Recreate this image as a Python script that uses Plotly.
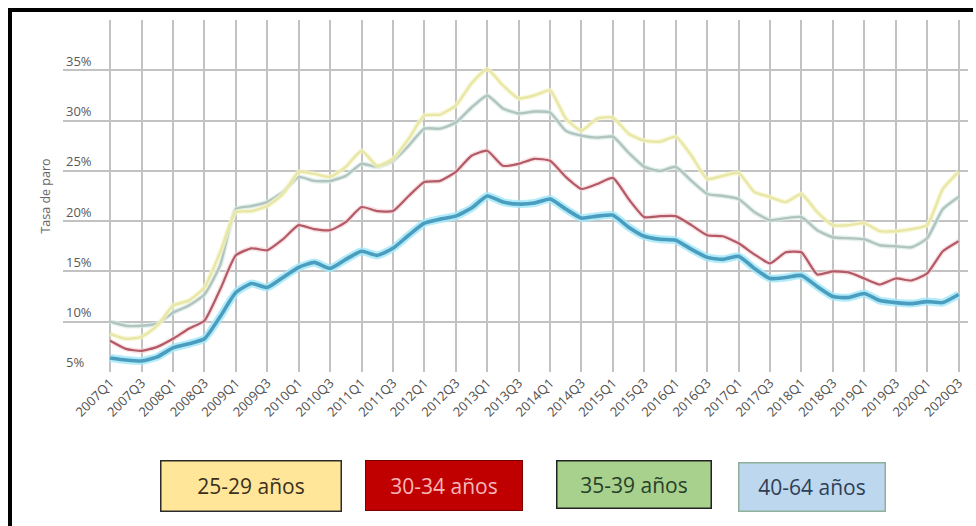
import plotly.graph_objects as go

quarters = [f"{y}Q{q}" for y in range(2007, 2021) for q in range(1, 5)][:55]

tick_labels = [q for q in quarters if q.endswith("Q1") or q.endswith("Q3")]

y_25_29 = [8.8, 8.3, 8.5, 9.6, 11.6, 12.1, 13.4, 16.9, 20.9, 21.0, 21.5, 22.7, 24.9, 24.7,
           24.4, 25.4, 27.0, 25.5, 26.2, 28.2, 30.5, 30.6, 31.5, 33.7, 35.1, 33.5, 32.2,
           32.5, 33.0, 30.2, 29.0, 30.2, 30.3, 28.7, 28.0, 27.9, 28.4, 26.5, 24.2, 24.5,
           24.8, 22.9, 22.4, 21.9, 22.7, 20.9, 19.6, 19.6, 19.8, 19.0, 19.0, 19.2, 19.6,
           23.2, 24.9]
y_30_34 = [8.1, 7.3, 7.1, 7.5, 8.3, 9.3, 10.1, 13.2, 16.6, 17.3, 17.1, 18.2, 19.6, 19.2,
           19.1, 19.9, 21.4, 21.0, 21.0, 22.5, 23.9, 24.0, 24.9, 26.5, 27.0, 25.5, 25.7,
           26.2, 26.0, 24.4, 23.2, 23.7, 24.3, 22.2, 20.4, 20.5, 20.5, 19.6, 18.6, 18.5,
           17.8, 16.7, 15.8, 16.9, 16.9, 14.7, 15.0, 14.9, 14.3, 13.7, 14.3, 14.1, 14.8,
           17.0, 18.0]
y_35_39 = [10.0, 9.6, 9.6, 9.8, 10.9, 11.6, 12.7, 15.6, 21.2, 21.5, 21.9, 22.9, 24.4, 24.0,
           24.0, 24.5, 25.7, 25.4, 26.0, 27.5, 29.2, 29.2, 29.8, 31.3, 32.5, 31.2, 30.7,
           30.9, 30.8, 29.0, 28.5, 28.3, 28.4, 26.8, 25.4, 25.0, 25.4, 24.0, 22.7, 22.5,
           22.2, 20.9, 20.1, 20.3, 20.4, 19.1, 18.4, 18.3, 18.2, 17.6, 17.5, 17.4, 18.3,
           21.2, 22.4]
y_40_64 = [6.4, 6.2, 6.1, 6.5, 7.4, 7.8, 8.3, 10.5, 12.9, 13.8, 13.4, 14.4, 15.4, 15.9,
           15.3, 16.2, 17.0, 16.6, 17.3, 18.6, 19.8, 20.2, 20.5, 21.3, 22.5, 21.9, 21.7,
           21.8, 22.2, 21.2, 20.3, 20.5, 20.6, 19.4, 18.5, 18.2, 18.1, 17.2, 16.4, 16.2,
           16.5, 15.3, 14.3, 14.4, 14.6, 13.5, 12.5, 12.4, 12.8, 12.1, 11.9, 11.8, 12.0,
           11.9, 12.7]

y_ticks = [5, 10, 15, 20, 25, 30, 35, 40]
y_ticktext = ["5%", "10%", "15%", "20%", "25%", "30%", "35%", ""]

legend_names = ["25-29 años", "30-34 años", "35-39 años", "40-64 años"]

fig = go.Figure()

def add_line(y, color, width, glow=None, glow_w=0, name=""):
    if glow:
        fig.add_trace(go.Scatter(x=quarters, y=y, mode="lines",
                                 line=dict(color=glow, width=glow_w, shape="spline", smoothing=0.5),
                                 hoverinfo="skip", showlegend=False))
    fig.add_trace(go.Scatter(x=quarters, y=y, mode="lines", name=name,
                             line=dict(color=color, width=width, shape="spline", smoothing=0.5),
                             showlegend=False))

add_line(y_35_39, "#B2C4BF", 2.4, "rgba(215,235,230,0.7)", 5, legend_names[2])
add_line(y_25_29, "#E9E7A8", 2.4, "rgba(245,245,200,0.7)", 5, legend_names[0])
add_line(y_30_34, "#B25A66", 2.2, "rgba(245,205,210,0.6)", 5, legend_names[1])
add_line(y_40_64, "#4A9DBF", 3.6, "rgba(165,232,248,0.85)", 8, legend_names[3])

L, R, T, B = 63, 968, 20, 372
W, H = 976, 526
pw, ph = R - L, B - T

def px(x):
    return (x - L) / pw

def py(y):
    return (B - y) / ph

boxes = [
    (legend_names[0], 160, 342, 460, 512, "#FFE699", "#2b2b2b", "#3a3020", 1.5),
    (legend_names[1], 365, 523, 460, 511, "#C00000", "#7a0000", "#F6B8B8", 1.0),
    (legend_names[2], 556, 712, 460, 509, "#A9D18E", "#222222", "#27402a", 1.5),
    (legend_names[3], 738, 886, 462, 512, "#BDD7EE", "#8FB09A", "#2f3e55", 1.5),
]
annotations = []
for text, x0, x1, y0, y1, bg, bc, tc, bw in boxes:
    annotations.append(dict(
        text=text, xref="paper", yref="paper",
        x=px((x0 + x1) / 2), y=py((y0 + y1) / 2), xanchor="center", yanchor="middle",
        showarrow=False, bgcolor=bg, bordercolor=bc, borderwidth=bw, borderpad=0,
        width=x1 - x0 - 2 * bw, height=y1 - y0 - 2 * bw,
        font=dict(family="Open Sans", size=21, color=tc)))

shapes = [
    dict(type="line", xref="paper", yref="paper", x0=px(8), x1=px(973), y0=py(10), y1=py(10),
         line=dict(color="black", width=4)),
    dict(type="line", xref="paper", yref="paper", x0=px(10), x1=px(10), y0=py(8), y1=py(530),
         line=dict(color="black", width=4)),
]

fig.update_layout(
    width=W, height=H,
    margin=dict(l=L, r=W - R, t=T, b=H - B),
    paper_bgcolor="white", plot_bgcolor="white",
    annotations=annotations, shapes=shapes,
    font=dict(family="Open Sans", color="#555555"),
)
fig.update_xaxes(
    type="category", range=[-3, 54.6],
    tickmode="array", tickvals=tick_labels, ticktext=tick_labels,
    tickangle=-45, tickfont=dict(size=13, color="#505050"),
    showgrid=True, gridcolor="#C2C2C2", gridwidth=1.5,
    showline=False, zeroline=False, ticks="",
)
fig.update_yaxes(
    range=[5, 40], tickmode="array", tickvals=y_ticks, ticktext=y_ticktext,
    ticklabelposition="inside top", tickfont=dict(size=13, color="#5a5a5a"),
    showgrid=True, gridcolor="#C2C2C2", gridwidth=1.5,
    showline=False, zeroline=False, ticks="",
    title=dict(text="Tasa de paro", font=dict(size=12.5, color="#666666"), standoff=12),
)

fig.write_html("out.html")
